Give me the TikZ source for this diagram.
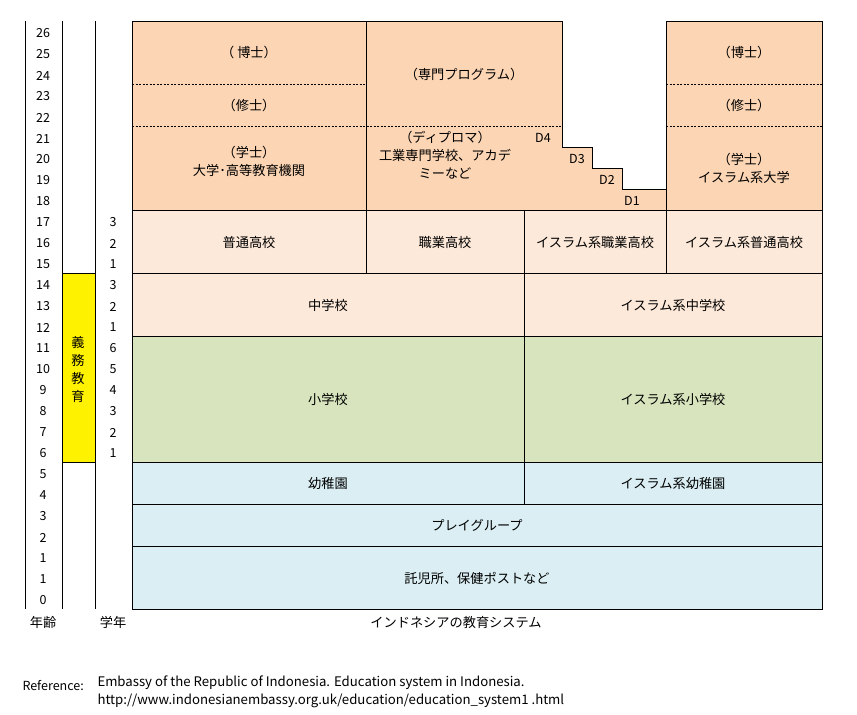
\documentclass[tikz,border=0pt]{standalone}
\usepackage{fontspec}
\setmainfont{Noto Sans CJK JP}
\definecolor{univ}{RGB}{252,213,180}
\definecolor{high}{RGB}{253,233,217}
\definecolor{prim}{RGB}{215,228,189}
\definecolor{kind}{RGB}{218,238,243}
\tikzset{
  lbl/.style={font=\fontsize{13.2}{18}\selectfont, inner sep=0pt, align=center},
  num/.style={font=\fontsize{12.5}{14}\selectfont, inner sep=0pt},
  sep/.style={dash pattern=on 2pt off 1.5pt, line width=0.8pt}
}

\begin{document}
\begin{tikzpicture}[x=1pt,y=-1pt,line width=1pt]
    \useasboundingbox (0,0) rectangle (857,715);

    %% colour blocks
    \fill[univ] (132,21) -- (562,21) -- (562,147) -- (592,147) -- (592,168) -- (622,168)
        -- (622,189) -- (666,189) -- (666,21) -- (822,21) -- (822,210) -- (132,210) -- cycle;
    \fill[high] (132,210) rectangle (822,336);
    \fill[prim] (132,336) rectangle (822,462);
    \fill[kind] (132,462) rectangle (822,609);
    \fill[yellow] (62,273) rectangle (95,462);

    %% outline and grid
    \draw (132,21) -- (562,21) -- (562,147) -- (592,147) -- (592,168) -- (622,168)
        -- (622,189) -- (666,189) -- (666,21) -- (822,21) -- (822,609) -- (132,609) -- cycle;
    \foreach \y in {210,273,336,462,504,546}
        \draw (132,\y) -- (822,\y);
    \draw (366,21) -- (366,273);
    \draw (666,189) -- (666,273);
    \draw (524,210) -- (524,504);
    \draw[sep] (132,84) -- (366,84);
    \draw[sep] (132,126) -- (562,126);
    \draw[sep] (666,84) -- (822,84);
    \draw[sep] (666,126) -- (822,126);

    %% age and grade columns
    \foreach \x in {25,62,95}
        \draw (\x,21) -- (\x,609);
    \draw (62,273) -- (95,273);
    \draw (62,462) -- (95,462);
    \foreach \a [count=\k from 0] in {26,25,24,23,22,21,20,19,18,17,16,15,14,13,12,11,10,9,8,7,6,5,4,3,2,1,1,0}
        \node[num] (age\k) at (43,{33.5+21*\k}) {\a};
    \foreach \g [count=\k from 9] in {3,2,1,3,2,1,6,5,4,3,2,1}
        \node[num] (grade\k) at (113,{33.5+21*\k}) {\g};
    \node[lbl] (duty) at (78,369) {義\\務\\教\\育};

    %% higher education
    \node[lbl] (phd) at (249,52) {（ 博士）};
    \node[lbl] (master) at (249,105) {（修士）};
    \node[lbl] (bachelor) at (249,161) {（学士）\\大学･高等教育機関};
    \node[lbl] (program) at (464,74) {（専門プログラム）};
    \node[lbl] (diploma) at (445,155) {（ディプロマ）\\工業専門学校、アカデ\\ミーなど};
    \node[num] (dfour) at (543,138) {D4};
    \node[num] (dthree) at (577,159) {D3};
    \node[num] (dtwo) at (607,180) {D2};
    \node[num] (done) at (632,201) {D1};
    \node[lbl] (iphd) at (744,52) {（博士）};
    \node[lbl] (imaster) at (744,105) {（修士）};
    \node[lbl] (ibachelor) at (744,168) {（学士）\\イスラム系大学};

    %% schools
    \node[lbl] (high) at (249,242) {普通高校};
    \node[lbl] (voc) at (445,242) {職業高校};
    \node[lbl] (ivoc) at (595,242) {イスラム系職業高校};
    \node[lbl] (ihigh) at (744,242) {イスラム系普通高校};
    \node[lbl] (junior) at (328,305) {中学校};
    \node[lbl] (ijunior) at (673,305) {イスラム系中学校};
    \node[lbl] (primary) at (328,399) {小学校};
    \node[lbl] (iprimary) at (673,399) {イスラム系小学校};
    \node[lbl] (kinder) at (328,483) {幼稚園};
    \node[lbl] (ikinder) at (673,483) {イスラム系幼稚園};
    \node[lbl] (play) at (477,525) {プレイグループ};
    \node[lbl] (care) at (477,578) {託児所、保健ポストなど};

    %% captions
    \node[lbl] (agecap) at (43,622) {年齢};
    \node[lbl] (gradecap) at (113,622) {学年};
    \node[lbl] (title) at (456,622) {インドネシアの教育システム};
    \node[num, anchor=west] (refkey) at (22,686) {Reference:};
    \node[num, font=\fontsize{13.2}{18}\selectfont, anchor=north west, align=left] (refsrc) at (97,675)
        {Embassy of the Republic of Indonesia. Education system in Indonesia.\\
         http://www.indonesianembassy.org.uk/education/education\_system1 .html};
\end{tikzpicture}
\end{document}
